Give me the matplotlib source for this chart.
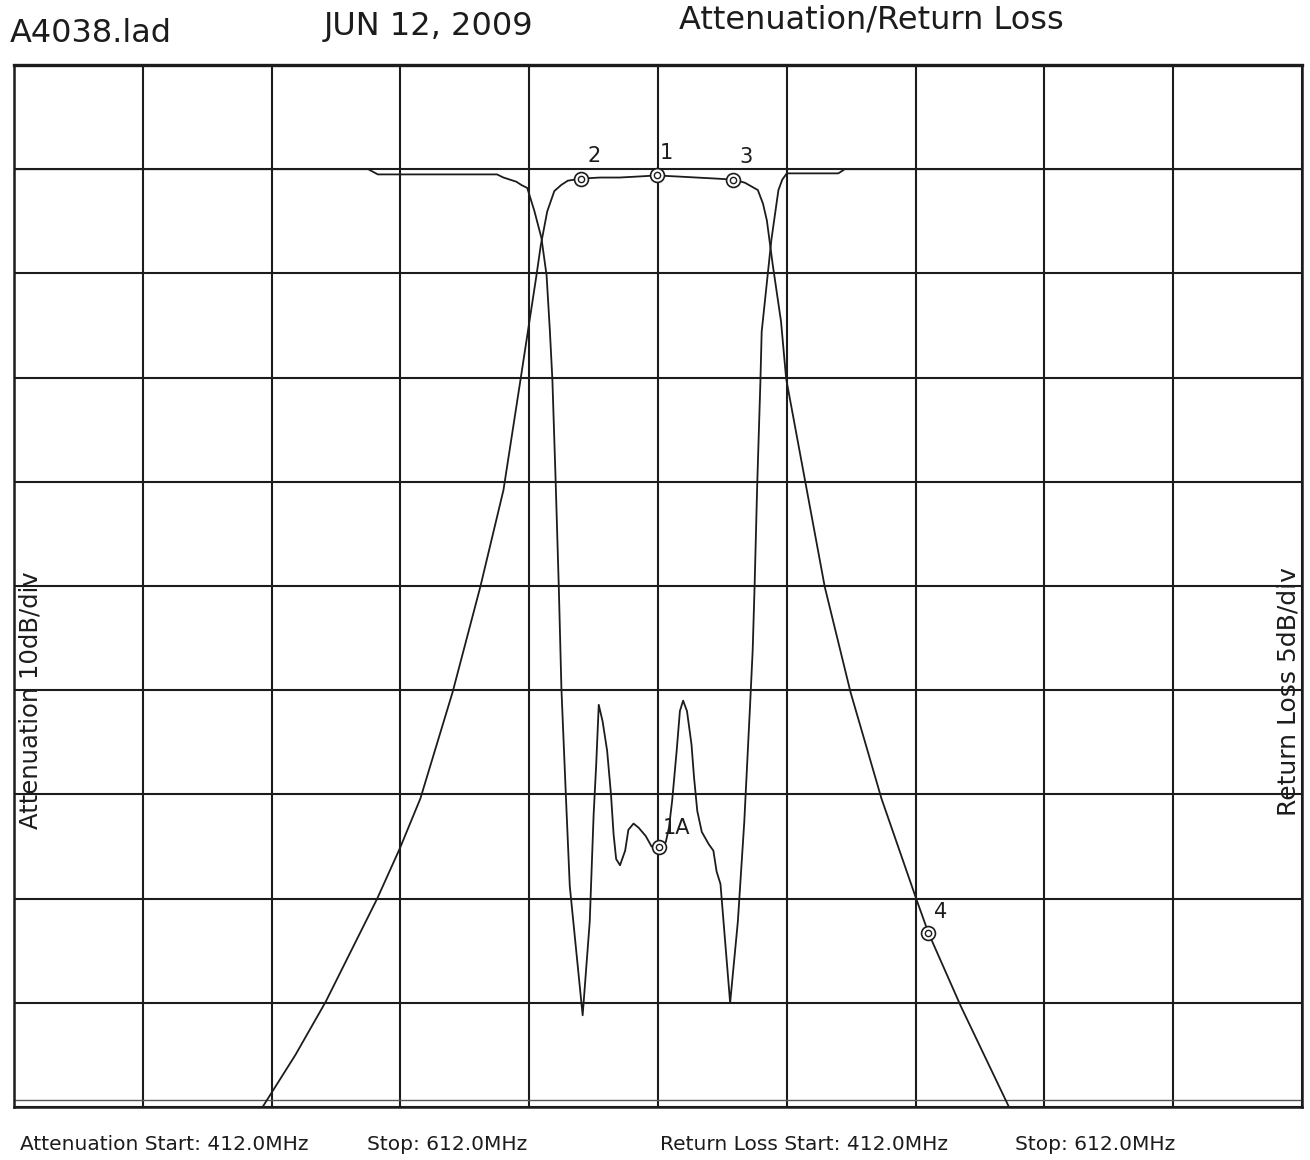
import matplotlib
matplotlib.use("Agg")
import matplotlib.pyplot as plt

# ---------------- data ----------------
f_start, f_stop = 412.0, 612.0

# Attenuation trace (10 dB/div), MHz / dB
att_freq = [450.6, 455.7, 460.4, 468.4, 471.9, 475.1, 480.1, 484.4, 488.0, 490.6,
            493.1, 493.8, 494.8, 495.9, 497.0, 498.0, 500.1, 503.0, 506.0, 509.0,
            511.8, 515.0, 518.0, 521.0, 523.7, 525.5, 527.5, 528.3, 528.9, 529.8,
            531.1, 531.9, 534.9, 537.9, 541.9, 546.7, 552.2, 554.0, 559.0, 566.5]
att_db = [-90.0, -85.0, -79.9, -70.0, -65.2, -60.4, -50.2, -40.1, -30.8, -20.4,
          -10.3, -7.3, -4.05, -2.1, -1.5, -1.1, -0.9, -0.8, -0.8, -0.7,
          -0.6, -0.7, -0.8, -0.9, -1.0, -1.3, -2.0, -3.3, -4.9, -9.1,
          -14.6, -20.1, -30.1, -40.1, -50.2, -60.4, -70.2, -73.3, -80.3, -90.0]

# Return loss trace (5 dB/div), MHz / dB
rl_freq = [412.0, 467.0, 468.5, 487.0, 488.0, 490.0, 490.8, 491.7, 492.8, 493.9,
           494.7, 495.2, 495.6, 496.1, 496.6, 497.0, 497.7, 498.3, 500.3, 501.4,
           502.0, 502.4, 502.8, 503.4, 504.1, 504.7, 505.1, 505.5, 506.1, 506.9,
           507.4, 508.2, 509.0, 510.1, 511.0, 512.1, 513.2, 513.7, 514.2, 514.9,
           515.4, 515.9, 516.5, 517.2, 517.6, 518.1, 518.8, 519.9, 520.6, 521.1,
           521.7, 523.2, 524.4, 525.4, 526.3, 526.7, 527.0, 527.4, 527.9, 528.1,
           529.6, 530.7, 531.3, 532.0, 540.0, 541.0, 612.0]
rl_db = [0.0, 0.0, -0.25, -0.25, -0.4, -0.6, -0.76, -0.9, -2.0, -3.3,
         -5.1, -7.7, -10.1, -14.9, -20.1, -24.9, -30.1, -34.4, -40.6, -36.1,
         -31.0, -28.6, -25.7, -26.5, -27.9, -30.0, -31.9, -33.1, -33.4, -32.7,
         -31.7, -31.4, -31.6, -32.0, -32.5, -32.5, -32.3, -31.6, -30.3, -27.9,
         -26.0, -25.5, -26.0, -27.6, -29.2, -30.8, -31.8, -32.4, -32.7, -33.7,
         -34.3, -40.0, -36.1, -31.3, -25.7, -23.1, -20.0, -15.2, -10.2, -7.8,
         -3.4, -1.0, -0.5, -0.2, -0.2, 0.0, 0.0]

# Markers on the attenuation trace
mk_att_freq = [511.8, 500.1, 523.7, 554.0]
mk_att_db = [-0.6, -0.9, -1.0, -73.3]
mk_att_lbl = ["1", "2", "3", "4"]
# Marker on the return loss trace
mk_rl_freq = [512.1]
mk_rl_db = [-32.5]
mk_rl_lbl = ["1A"]

att_top, att_div = 10.0, 10.0    # dB at top edge, dB/div
rl_top, rl_div = 5.0, 5.0
n_div = 10

header_left = "A4038.lad"
header_date = "JUN 12, 2009"
header_title = "Attenuation/Return Loss"
footer = ["Attenuation Start: 412.0MHz", "Stop: 612.0MHz",
          "Return Loss Start: 412.0MHz", "Stop: 612.0MHz"]
left_label = "Attenuation 10dB/div"
right_label = "Return Loss 5dB/div"

# ---------------- figure ----------------
W, H = 1310, 1160
INK = "#1c1c1c"
plt.rcParams['font.family'] = ['DejaVu Sans']
fig = plt.figure(figsize=(W / 100, H / 100), dpi=100)
fig.patch.set_facecolor("white")

l, r, t, b = 14, 1302, 65, 1107
ax = fig.add_axes([l / W, 1 - b / H, (r - l) / W, (b - t) / H])
ax.set_xlim(f_start, f_stop)
ax.set_ylim(att_top - n_div * att_div, att_top)
step_f = (f_stop - f_start) / n_div
ax.set_xticks([f_start + k * step_f for k in range(n_div + 1)])
ax.set_yticks([att_top - k * att_div for k in range(n_div + 1)])
ax.tick_params(length=0, labelbottom=False, labelleft=False)
ax.grid(True, color=INK, lw=1.5)
ax.set_axisbelow(True)
for s in ax.spines.values():
    s.set_color(INK)
    s.set_linewidth(1.8)
ax.spines['top'].set_linewidth(2.4)
ax.axhline(att_top - n_div * att_div + 0.7, color="#555555", lw=1.0)

ax2 = ax.twinx()
ax2.set_ylim(rl_top - n_div * rl_div, rl_top)
ax2.set_yticks([])
for s in ax2.spines.values():
    s.set_visible(False)

ax.plot(att_freq, att_db, color=INK, lw=1.3, clip_on=True, zorder=3)
ax2.plot(rl_freq, rl_db, color=INK, lw=1.3, clip_on=True, zorder=3)


def draw_markers(a, xs, ys, labels, offs):
    a.plot(xs, ys, ls="none", marker="o", ms=10, mfc="white", mec=INK, mew=1.2, zorder=5)
    a.plot(xs, ys, ls="none", marker="o", ms=4.5, mfc="none", mec=INK, mew=1.0, zorder=6)
    for x, y, s, o in zip(xs, ys, labels, offs):
        a.annotate(s, (x, y), xytext=o, textcoords="offset points",
                   ha="center", va="center", fontsize=15, color=INK, zorder=7)


draw_markers(ax, mk_att_freq, mk_att_db, mk_att_lbl,
             [(7, 16), (9, 16), (9, 16), (9, 15)])
draw_markers(ax2, mk_rl_freq, mk_rl_db, mk_rl_lbl, [(13, 13)])

# axis captions inside the frame
ax.text(31 / W, 1 - 700 / H, left_label, transform=fig.transFigure, rotation=90,
        ha="center", va="center", fontsize=17.5, color=INK)
ax.text(1289 / W, 1 - 692 / H, right_label, transform=fig.transFigure, rotation=90,
        ha="center", va="center", fontsize=18, color=INK)

# header
fig.text(10 / W, 1 - 33 / H, header_left, ha="left", va="center", fontsize=23, color=INK)
fig.text(429 / W, 1 - 27 / H, header_date, ha="center", va="center", fontsize=23, color=INK)
fig.text(871 / W, 1 - 20 / H, header_title, ha="center", va="center", fontsize=23, color=INK)

# footer
fx = [20, 367, 660, 1015]
for x, s in zip(fx, footer):
    fig.text(x / W, 1 - 1145 / H, s, ha="left", va="center", fontsize=14.5, color=INK)

fig.savefig("out.png", dpi=100, facecolor="white")
